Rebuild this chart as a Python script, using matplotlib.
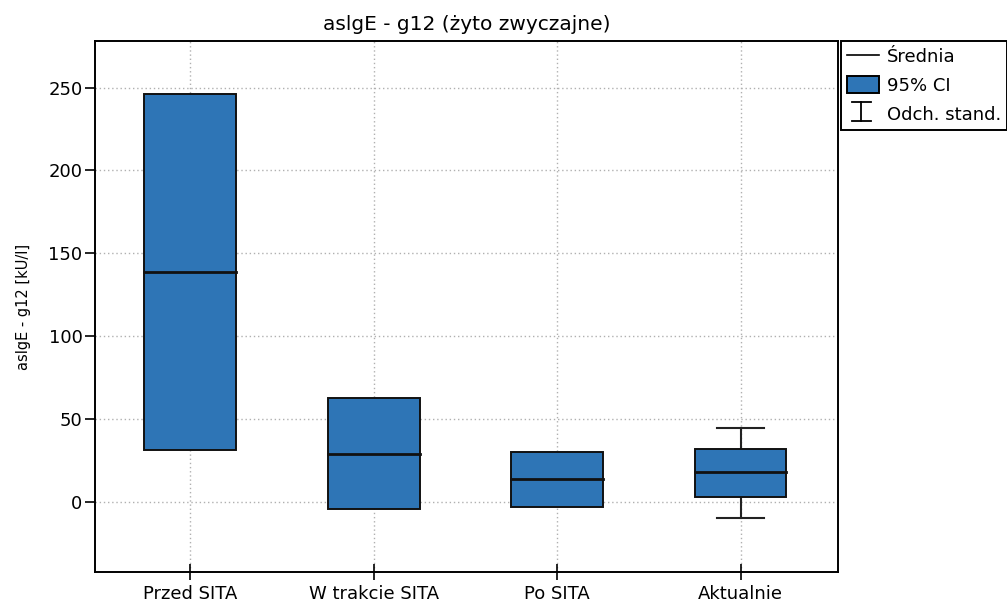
import numpy as np
import matplotlib.pyplot as plt
from matplotlib.patches import Rectangle
from matplotlib.lines import Line2D
from matplotlib.legend_handler import HandlerBase

plt.rcParams['font.family'] = ['DejaVu Sans']

groups = ['Przed SITA', 'W trakcie SITA', 'Po SITA', 'Aktualnie']
means = [138.6, 28.9, 13.9, 18.1]
ci_low = [31.3, -4.2, -3.0, 3.0]
ci_high = [245.8, 62.7, 30.1, 31.9]
# standard deviation range, only visible where it reaches outside the CI box
sd_low = [np.nan, np.nan, np.nan, -9.6]
sd_high = [np.nan, np.nan, np.nan, 44.6]

box_color = '#2e75b6'


class SdHandler(HandlerBase):
    def create_artists(self, legend, orig_handle, xd, yd, width, height, fontsize, trans):
        cx = xd + width * 0.45
        y0, y1 = yd - 2, yd + height
        cap = width * 0.3
        lines = [
            Line2D([cx, cx], [y0, y1], color='black', lw=1.3),
            Line2D([cx - cap, cx + cap], [y0, y0], color='black', lw=1.3),
            Line2D([cx - cap, cx + cap], [y1, y1], color='black', lw=1.3),
        ]
        for l in lines:
            l.set_transform(trans)
        return lines


fig = plt.figure(figsize=(10.07, 6.04), dpi=100)
ax = fig.add_axes([0.0943, 0.053, 0.7377, 0.879])

x = np.arange(len(groups))
w = 0.50
cap = 0.13
for i in x:
    if not np.isnan(sd_low[i]):
        ax.plot([i, i], [sd_low[i], sd_high[i]], color='#222222', lw=1.5, zorder=2)
        ax.plot([i - cap, i + cap], [sd_low[i]] * 2, color='#222222', lw=1.5, zorder=2)
        ax.plot([i - cap, i + cap], [sd_high[i]] * 2, color='#222222', lw=1.5, zorder=2)
    ax.add_patch(Rectangle((i - w / 2, ci_low[i]), w, ci_high[i] - ci_low[i],
                           facecolor=box_color, edgecolor='#111111', lw=1.4, zorder=3))
    ax.plot([i - w / 2, i + w / 2], [means[i]] * 2, color='#111111', lw=2, zorder=4)

ax.set_xlim(-0.52, 3.53)
ax.set_ylim(-42, 278)
ax.set_xticks(x)
ax.set_xticklabels(groups)
ax.set_yticks([0, 50, 100, 150, 200, 250])
ax.grid(True, color='#b0b0b0', linestyle=(0, (1, 2)), lw=1, zorder=0)
ax.set_axisbelow(True)
ax.tick_params(axis='y', direction='out', length=7, width=1.2, labelsize=13, pad=2)
ax.tick_params(axis='x', direction='inout', length=11, width=1.2, labelsize=13, pad=4)
for s in ax.spines.values():
    s.set_linewidth(1.4)

ax.set_title('aslgE - g12 (żyto zwyczajne)', fontsize=14.5, pad=8)
ax.set_ylabel('aslgE - g12 [kU/l]', fontsize=10.5)
ax.yaxis.set_label_coords(-0.086, 0.5)

h_mean = Line2D([], [], color='black', lw=1.2)
h_ci = Rectangle((0, 0), 1, 1, facecolor=box_color, edgecolor='black', lw=1.4)
h_sd = object()
leg = ax.legend([h_mean, h_ci, h_sd], ['Średnia', '95% CI', 'Odch. stand.'],
                handler_map={object: SdHandler()},
                loc='upper left', bbox_to_anchor=(1.004, 1.0), borderaxespad=0,
                fontsize=13, fancybox=False, framealpha=1, edgecolor='black',
                handlelength=1.75, handleheight=1.0, labelspacing=0.6,
                borderpad=0.35, handletextpad=0.45)
leg.get_frame().set_linewidth(1.4)

fig.savefig('out.png', dpi=100)
